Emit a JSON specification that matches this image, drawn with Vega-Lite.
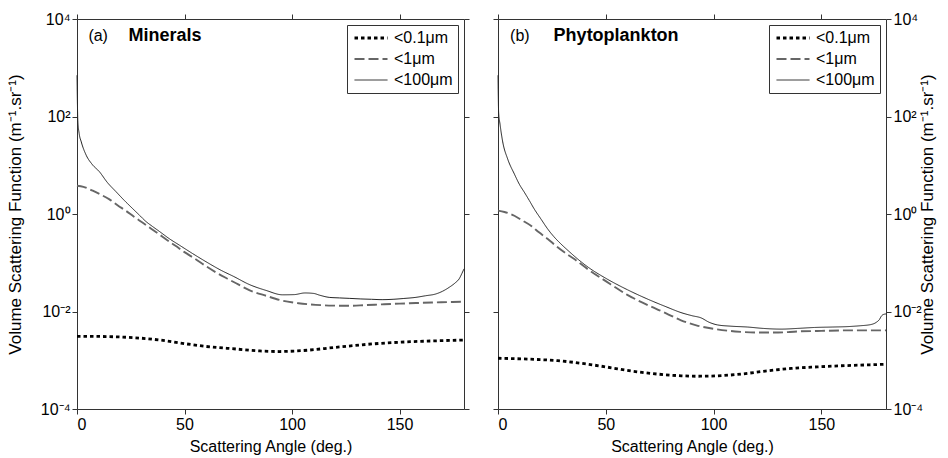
{
  "$schema": "https://vega.github.io/schema/vega-lite/v6.json",
  "padding": {"left": 6, "top": 11, "right": 2, "bottom": 4},
  "config": {
    "font": "Liberation Sans",
    "view": {"stroke": null},
    "axis": {"domainColor": "#333", "tickColor": "#333", "labelColor": "#000", "titleColor": "#000", "labelFontSize": 16, "titleFontSize": 16, "titleFontWeight": "normal", "grid": false, "tickSize": 5, "labelPadding": 2},
    "legend": {"orient": "top-right", "offset": 6, "strokeColor": "#333", "fillColor": "#fff", "padding": 5, "labelFontSize": 16, "symbolType": "M-1,0H5", "symbolSize": 121, "labelOffset": 26, "rowPadding": 5}
  },
  "datasets": {
    "vsf": [
      {"panel": "a", "size": "<100μm", "angle": 0, "vsf": 700},
      {"panel": "a", "size": "<100μm", "angle": 0.4, "vsf": 80},
      {"panel": "a", "size": "<100μm", "angle": 1, "vsf": 45},
      {"panel": "a", "size": "<100μm", "angle": 2, "vsf": 30},
      {"panel": "a", "size": "<100μm", "angle": 4.3, "vsf": 16},
      {"panel": "a", "size": "<100μm", "angle": 7, "vsf": 10.5},
      {"panel": "a", "size": "<100μm", "angle": 10.5, "vsf": 7.3},
      {"panel": "a", "size": "<100μm", "angle": 14, "vsf": 4.5},
      {"panel": "a", "size": "<100μm", "angle": 18.2, "vsf": 2.85},
      {"panel": "a", "size": "<100μm", "angle": 22, "vsf": 1.9},
      {"panel": "a", "size": "<100μm", "angle": 25.8, "vsf": 1.3},
      {"panel": "a", "size": "<100μm", "angle": 29, "vsf": 0.95},
      {"panel": "a", "size": "<100μm", "angle": 32.1, "vsf": 0.7},
      {"panel": "a", "size": "<100μm", "angle": 35, "vsf": 0.56},
      {"panel": "a", "size": "<100μm", "angle": 38.3, "vsf": 0.44},
      {"panel": "a", "size": "<100μm", "angle": 43, "vsf": 0.31},
      {"panel": "a", "size": "<100μm", "angle": 47.6, "vsf": 0.23},
      {"panel": "a", "size": "<100μm", "angle": 53.7, "vsf": 0.155},
      {"panel": "a", "size": "<100μm", "angle": 60, "vsf": 0.105},
      {"panel": "a", "size": "<100μm", "angle": 67, "vsf": 0.07},
      {"panel": "a", "size": "<100μm", "angle": 73, "vsf": 0.052},
      {"panel": "a", "size": "<100μm", "angle": 80, "vsf": 0.036},
      {"panel": "a", "size": "<100μm", "angle": 88, "vsf": 0.027},
      {"panel": "a", "size": "<100μm", "angle": 95.6, "vsf": 0.022},
      {"panel": "a", "size": "<100μm", "angle": 101, "vsf": 0.0222},
      {"panel": "a", "size": "<100μm", "angle": 106, "vsf": 0.024},
      {"panel": "a", "size": "<100μm", "angle": 110, "vsf": 0.0235},
      {"panel": "a", "size": "<100μm", "angle": 113, "vsf": 0.0215},
      {"panel": "a", "size": "<100μm", "angle": 117.3, "vsf": 0.0195},
      {"panel": "a", "size": "<100μm", "angle": 122, "vsf": 0.019},
      {"panel": "a", "size": "<100μm", "angle": 126.6, "vsf": 0.0186},
      {"panel": "a", "size": "<100μm", "angle": 132, "vsf": 0.0181},
      {"panel": "a", "size": "<100μm", "angle": 137, "vsf": 0.0178},
      {"panel": "a", "size": "<100μm", "angle": 141.9, "vsf": 0.0175},
      {"panel": "a", "size": "<100μm", "angle": 147, "vsf": 0.0178},
      {"panel": "a", "size": "<100μm", "angle": 152, "vsf": 0.0185},
      {"panel": "a", "size": "<100μm", "angle": 157.6, "vsf": 0.0195},
      {"panel": "a", "size": "<100μm", "angle": 162, "vsf": 0.021},
      {"panel": "a", "size": "<100μm", "angle": 166.9, "vsf": 0.0229},
      {"panel": "a", "size": "<100μm", "angle": 170, "vsf": 0.026},
      {"panel": "a", "size": "<100μm", "angle": 173.1, "vsf": 0.0313},
      {"panel": "a", "size": "<100μm", "angle": 176, "vsf": 0.039},
      {"panel": "a", "size": "<100μm", "angle": 177.7, "vsf": 0.0464},
      {"panel": "a", "size": "<100μm", "angle": 179, "vsf": 0.06},
      {"panel": "a", "size": "<100μm", "angle": 180, "vsf": 0.075},

      {"panel": "a", "size": "<1μm", "angle": 0, "vsf": 3.8},
      {"panel": "a", "size": "<1μm", "angle": 3, "vsf": 3.6},
      {"panel": "a", "size": "<1μm", "angle": 7.3, "vsf": 3.0},
      {"panel": "a", "size": "<1μm", "angle": 11, "vsf": 2.5},
      {"panel": "a", "size": "<1μm", "angle": 15.1, "vsf": 2.0},
      {"panel": "a", "size": "<1μm", "angle": 19, "vsf": 1.5},
      {"panel": "a", "size": "<1μm", "angle": 22.9, "vsf": 1.15},
      {"panel": "a", "size": "<1μm", "angle": 26.5, "vsf": 0.88},
      {"panel": "a", "size": "<1μm", "angle": 30.6, "vsf": 0.66},
      {"panel": "a", "size": "<1μm", "angle": 34.5, "vsf": 0.5},
      {"panel": "a", "size": "<1μm", "angle": 38.3, "vsf": 0.38},
      {"panel": "a", "size": "<1μm", "angle": 42, "vsf": 0.29},
      {"panel": "a", "size": "<1μm", "angle": 46, "vsf": 0.22},
      {"panel": "a", "size": "<1μm", "angle": 50, "vsf": 0.165},
      {"panel": "a", "size": "<1μm", "angle": 55, "vsf": 0.12},
      {"panel": "a", "size": "<1μm", "angle": 60, "vsf": 0.085},
      {"panel": "a", "size": "<1μm", "angle": 65, "vsf": 0.062},
      {"panel": "a", "size": "<1μm", "angle": 70, "vsf": 0.047},
      {"panel": "a", "size": "<1μm", "angle": 75, "vsf": 0.036},
      {"panel": "a", "size": "<1μm", "angle": 80.1, "vsf": 0.0275},
      {"panel": "a", "size": "<1μm", "angle": 88, "vsf": 0.021},
      {"panel": "a", "size": "<1μm", "angle": 95.5, "vsf": 0.0167},
      {"panel": "a", "size": "<1μm", "angle": 103, "vsf": 0.0148},
      {"panel": "a", "size": "<1μm", "angle": 111, "vsf": 0.0137},
      {"panel": "a", "size": "<1μm", "angle": 119, "vsf": 0.0132},
      {"panel": "a", "size": "<1μm", "angle": 126.6, "vsf": 0.0131},
      {"panel": "a", "size": "<1μm", "angle": 134, "vsf": 0.0135},
      {"panel": "a", "size": "<1μm", "angle": 141.9, "vsf": 0.014},
      {"panel": "a", "size": "<1μm", "angle": 150, "vsf": 0.0145},
      {"panel": "a", "size": "<1μm", "angle": 157.6, "vsf": 0.0149},
      {"panel": "a", "size": "<1μm", "angle": 165, "vsf": 0.0153},
      {"panel": "a", "size": "<1μm", "angle": 172, "vsf": 0.0156},
      {"panel": "a", "size": "<1μm", "angle": 180, "vsf": 0.0159},

      {"panel": "a", "size": "<0.1μm", "angle": 0, "vsf": 0.0031},
      {"panel": "a", "size": "<0.1μm", "angle": 10, "vsf": 0.00308},
      {"panel": "a", "size": "<0.1μm", "angle": 20, "vsf": 0.003},
      {"panel": "a", "size": "<0.1μm", "angle": 30, "vsf": 0.00283},
      {"panel": "a", "size": "<0.1μm", "angle": 40, "vsf": 0.00255},
      {"panel": "a", "size": "<0.1μm", "angle": 50.7, "vsf": 0.00217},
      {"panel": "a", "size": "<0.1μm", "angle": 60, "vsf": 0.00192},
      {"panel": "a", "size": "<0.1μm", "angle": 74, "vsf": 0.0017},
      {"panel": "a", "size": "<0.1μm", "angle": 85, "vsf": 0.00155},
      {"panel": "a", "size": "<0.1μm", "angle": 94, "vsf": 0.00151},
      {"panel": "a", "size": "<0.1μm", "angle": 105, "vsf": 0.00158},
      {"panel": "a", "size": "<0.1μm", "angle": 120.4, "vsf": 0.00184},
      {"panel": "a", "size": "<0.1μm", "angle": 135, "vsf": 0.00212},
      {"panel": "a", "size": "<0.1μm", "angle": 143.6, "vsf": 0.00226},
      {"panel": "a", "size": "<0.1μm", "angle": 155, "vsf": 0.0024},
      {"panel": "a", "size": "<0.1μm", "angle": 166.8, "vsf": 0.0025},
      {"panel": "a", "size": "<0.1μm", "angle": 180, "vsf": 0.0026},

      {"panel": "b", "size": "<100μm", "angle": 0, "vsf": 700},
      {"panel": "b", "size": "<100μm", "angle": 0.3, "vsf": 120},
      {"panel": "b", "size": "<100μm", "angle": 0.93, "vsf": 70},
      {"panel": "b", "size": "<100μm", "angle": 2.2, "vsf": 30},
      {"panel": "b", "size": "<100μm", "angle": 4.5, "vsf": 13.4},
      {"panel": "b", "size": "<100μm", "angle": 7.6, "vsf": 6.6},
      {"panel": "b", "size": "<100μm", "angle": 10, "vsf": 4.0},
      {"panel": "b", "size": "<100μm", "angle": 12.2, "vsf": 2.8},
      {"panel": "b", "size": "<100μm", "angle": 14.5, "vsf": 1.9},
      {"panel": "b", "size": "<100μm", "angle": 16.8, "vsf": 1.27},
      {"panel": "b", "size": "<100μm", "angle": 20, "vsf": 0.78},
      {"panel": "b", "size": "<100μm", "angle": 23.1, "vsf": 0.49},
      {"panel": "b", "size": "<100μm", "angle": 26, "vsf": 0.34},
      {"panel": "b", "size": "<100μm", "angle": 29.2, "vsf": 0.243},
      {"panel": "b", "size": "<100μm", "angle": 33, "vsf": 0.17},
      {"panel": "b", "size": "<100μm", "angle": 37, "vsf": 0.119},
      {"panel": "b", "size": "<100μm", "angle": 42, "vsf": 0.08},
      {"panel": "b", "size": "<100μm", "angle": 50, "vsf": 0.048},
      {"panel": "b", "size": "<100μm", "angle": 60, "vsf": 0.028},
      {"panel": "b", "size": "<100μm", "angle": 70, "vsf": 0.0175},
      {"panel": "b", "size": "<100μm", "angle": 78, "vsf": 0.0125},
      {"panel": "b", "size": "<100μm", "angle": 84.9, "vsf": 0.0095},
      {"panel": "b", "size": "<100μm", "angle": 90, "vsf": 0.0082},
      {"panel": "b", "size": "<100μm", "angle": 94.2, "vsf": 0.0074},
      {"panel": "b", "size": "<100μm", "angle": 98, "vsf": 0.006},
      {"panel": "b", "size": "<100μm", "angle": 101.9, "vsf": 0.0053},
      {"panel": "b", "size": "<100μm", "angle": 108, "vsf": 0.005},
      {"panel": "b", "size": "<100μm", "angle": 115.8, "vsf": 0.0048},
      {"panel": "b", "size": "<100μm", "angle": 123, "vsf": 0.0045},
      {"panel": "b", "size": "<100μm", "angle": 131.3, "vsf": 0.00435},
      {"panel": "b", "size": "<100μm", "angle": 139, "vsf": 0.0045},
      {"panel": "b", "size": "<100μm", "angle": 146.7, "vsf": 0.0047},
      {"panel": "b", "size": "<100μm", "angle": 155, "vsf": 0.0048},
      {"panel": "b", "size": "<100μm", "angle": 162.2, "vsf": 0.0049},
      {"panel": "b", "size": "<100μm", "angle": 168, "vsf": 0.0051},
      {"panel": "b", "size": "<100μm", "angle": 173, "vsf": 0.0054},
      {"panel": "b", "size": "<100μm", "angle": 175.5, "vsf": 0.006},
      {"panel": "b", "size": "<100μm", "angle": 176.9, "vsf": 0.0068},
      {"panel": "b", "size": "<100μm", "angle": 178, "vsf": 0.0082},
      {"panel": "b", "size": "<100μm", "angle": 179.2, "vsf": 0.0088},
      {"panel": "b", "size": "<100μm", "angle": 180, "vsf": 0.0089},

      {"panel": "b", "size": "<1μm", "angle": 0, "vsf": 1.17},
      {"panel": "b", "size": "<1μm", "angle": 3, "vsf": 1.1},
      {"panel": "b", "size": "<1μm", "angle": 7.6, "vsf": 0.92},
      {"panel": "b", "size": "<1μm", "angle": 11, "vsf": 0.75},
      {"panel": "b", "size": "<1μm", "angle": 15.3, "vsf": 0.575},
      {"panel": "b", "size": "<1μm", "angle": 19, "vsf": 0.42},
      {"panel": "b", "size": "<1μm", "angle": 23.1, "vsf": 0.307},
      {"panel": "b", "size": "<1μm", "angle": 27, "vsf": 0.22},
      {"panel": "b", "size": "<1μm", "angle": 30.8, "vsf": 0.164},
      {"panel": "b", "size": "<1μm", "angle": 35.4, "vsf": 0.119},
      {"panel": "b", "size": "<1μm", "angle": 42, "vsf": 0.072},
      {"panel": "b", "size": "<1μm", "angle": 50, "vsf": 0.042},
      {"panel": "b", "size": "<1μm", "angle": 60, "vsf": 0.022},
      {"panel": "b", "size": "<1μm", "angle": 70, "vsf": 0.0132},
      {"panel": "b", "size": "<1μm", "angle": 78, "vsf": 0.0092},
      {"panel": "b", "size": "<1μm", "angle": 84.9, "vsf": 0.0066},
      {"panel": "b", "size": "<1μm", "angle": 92, "vsf": 0.0052},
      {"panel": "b", "size": "<1μm", "angle": 100.3, "vsf": 0.0044},
      {"panel": "b", "size": "<1μm", "angle": 110, "vsf": 0.0039},
      {"panel": "b", "size": "<1μm", "angle": 120.5, "vsf": 0.0037},
      {"panel": "b", "size": "<1μm", "angle": 130, "vsf": 0.0037},
      {"panel": "b", "size": "<1μm", "angle": 139, "vsf": 0.0039},
      {"panel": "b", "size": "<1μm", "angle": 150, "vsf": 0.004},
      {"panel": "b", "size": "<1μm", "angle": 162.2, "vsf": 0.0041},
      {"panel": "b", "size": "<1μm", "angle": 180, "vsf": 0.0041},

      {"panel": "b", "size": "<0.1μm", "angle": 0, "vsf": 0.0011},
      {"panel": "b", "size": "<0.1μm", "angle": 15, "vsf": 0.00105},
      {"panel": "b", "size": "<0.1μm", "angle": 27.7, "vsf": 0.00098},
      {"panel": "b", "size": "<0.1μm", "angle": 40, "vsf": 0.00085},
      {"panel": "b", "size": "<0.1μm", "angle": 50.9, "vsf": 0.00072},
      {"panel": "b", "size": "<0.1μm", "angle": 62, "vsf": 0.0006},
      {"panel": "b", "size": "<0.1μm", "angle": 74.1, "vsf": 0.00052},
      {"panel": "b", "size": "<0.1μm", "angle": 85, "vsf": 0.00048},
      {"panel": "b", "size": "<0.1μm", "angle": 92.6, "vsf": 0.00047},
      {"panel": "b", "size": "<0.1μm", "angle": 102, "vsf": 0.00048},
      {"panel": "b", "size": "<0.1μm", "angle": 112.7, "vsf": 0.00052},
      {"panel": "b", "size": "<0.1μm", "angle": 124, "vsf": 0.0006},
      {"panel": "b", "size": "<0.1μm", "angle": 136, "vsf": 0.00068},
      {"panel": "b", "size": "<0.1μm", "angle": 148, "vsf": 0.00073},
      {"panel": "b", "size": "<0.1μm", "angle": 159, "vsf": 0.00077},
      {"panel": "b", "size": "<0.1μm", "angle": 170, "vsf": 0.0008},
      {"panel": "b", "size": "<0.1μm", "angle": 180, "vsf": 0.00083}
    ]
  },
  "data": {"name": "vsf"},
  "spacing": 22,
  "resolve": {"scale": {"color": "independent", "strokeDash": "independent", "strokeWidth": "independent"}, "legend": {"color": "independent", "strokeDash": "independent", "strokeWidth": "independent"}},
  "hconcat": [
    {
      "width": 387,
      "height": 390,
      "transform": [{"filter": "datum.panel == 'a'"}],
      "layer": [
        {
          "mark": {"type": "line", "interpolate": "monotone"},
          "encoding": {
            "x": {"field": "angle", "type": "quantitative", "scale": {"domain": [0, 180], "nice": false, "zero": false}, "axis": {"orient": "bottom", "values": [0, 50, 100, 150], "title": "Scattering Angle (deg.)", "titlePadding": 6}},
            "y": {"field": "vsf", "type": "quantitative", "scale": {"type": "log", "domain": [0.0001, 10000], "nice": false}, "axis": {"orient": "left", "values": [0.0001, 0.01, 1, 100, 10000], "labelExpr": "datum.value >= 10000 ? '10⁴' : datum.value >= 100 ? '10²' : datum.value >= 1 ? '10⁰' : datum.value >= 0.01 ? '10⁻²' : '10⁻⁴'", "title": "Volume Scattering Function (m⁻¹.sr⁻¹)", "titleFontSize": 17, "titlePadding": 16}},
            "color": {"field": "size", "type": "nominal", "scale": {"domain": ["<0.1μm", "<1μm", "<100μm"], "range": ["#000000", "#666666", "#222222"]}, "legend": {"title": null}},
            "strokeDash": {"field": "size", "type": "nominal", "scale": {"domain": ["<0.1μm", "<1μm", "<100μm"], "range": [[3.5, 3], [10, 4], [1, 0]]}, "legend": {"title": null}},
            "strokeWidth": {"field": "size", "type": "nominal", "scale": {"domain": ["<0.1μm", "<1μm", "<100μm"], "range": [2.8, 1, 1]}, "legend": {"title": null}}
          }
        },
        {
          "mark": {"type": "point", "opacity": 0},
          "encoding": {
            "x": {"field": "angle", "type": "quantitative", "scale": {"domain": [0, 180], "nice": false, "zero": false}, "axis": {"orient": "top", "values": [0, 50, 100, 150], "labels": false, "title": null}},
            "y": {"field": "vsf", "type": "quantitative", "scale": {"type": "log", "domain": [0.0001, 10000], "nice": false}, "axis": {"orient": "right", "values": [0.0001, 0.01, 1, 100, 10000], "labels": false, "title": null}}
          }
        },
        {
          "data": {"values": [{}]},
          "mark": {"type": "text", "align": "left", "baseline": "middle", "fontSize": 16},
          "encoding": {"x": {"datum": 5.3, "type": "quantitative", "axis": null}, "y": {"datum": 4540, "type": "quantitative", "axis": null}, "text": {"value": "(a)"}}
        },
        {
          "data": {"values": [{}]},
          "mark": {"type": "text", "align": "left", "baseline": "middle", "fontSize": 18, "fontWeight": "bold"},
          "encoding": {"x": {"datum": 24, "type": "quantitative", "axis": null}, "y": {"datum": 4540, "type": "quantitative", "axis": null}, "text": {"value": "Minerals"}}
        }
      ],
      "resolve": {"axis": {"x": "independent", "y": "independent"}}
    },
    {
      "width": 388,
      "height": 390,
      "transform": [{"filter": "datum.panel == 'b'"}],
      "layer": [
        {
          "mark": {"type": "line", "interpolate": "monotone"},
          "encoding": {
            "x": {"field": "angle", "type": "quantitative", "scale": {"domain": [0, 180], "nice": false, "zero": false}, "axis": {"orient": "bottom", "values": [0, 50, 100, 150], "title": "Scattering Angle (deg.)", "titlePadding": 6}},
            "y": {"field": "vsf", "type": "quantitative", "scale": {"type": "log", "domain": [0.0001, 10000], "nice": false}, "axis": {"orient": "right", "values": [0.0001, 0.01, 1, 100, 10000], "labelExpr": "datum.value >= 10000 ? '10⁴' : datum.value >= 100 ? '10²' : datum.value >= 1 ? '10⁰' : datum.value >= 0.01 ? '10⁻²' : '10⁻⁴'", "title": "Volume Scattering Function (m⁻¹.sr⁻¹)", "titleFontSize": 17, "titleAngle": 270, "titleBaseline": "bottom", "titlePadding": 14}},
            "color": {"field": "size", "type": "nominal", "scale": {"domain": ["<0.1μm", "<1μm", "<100μm"], "range": ["#000000", "#666666", "#222222"]}, "legend": {"title": null}},
            "strokeDash": {"field": "size", "type": "nominal", "scale": {"domain": ["<0.1μm", "<1μm", "<100μm"], "range": [[3.5, 3], [10, 4], [1, 0]]}, "legend": {"title": null}},
            "strokeWidth": {"field": "size", "type": "nominal", "scale": {"domain": ["<0.1μm", "<1μm", "<100μm"], "range": [2.8, 1, 1]}, "legend": {"title": null}}
          }
        },
        {
          "mark": {"type": "point", "opacity": 0},
          "encoding": {
            "x": {"field": "angle", "type": "quantitative", "scale": {"domain": [0, 180], "nice": false, "zero": false}, "axis": {"orient": "top", "values": [0, 50, 100, 150], "labels": false, "title": null}},
            "y": {"field": "vsf", "type": "quantitative", "scale": {"type": "log", "domain": [0.0001, 10000], "nice": false}, "axis": {"orient": "left", "values": [0.0001, 0.01, 1, 100, 10000], "labels": false, "title": null}}
          }
        },
        {
          "data": {"values": [{}]},
          "mark": {"type": "text", "align": "left", "baseline": "middle", "fontSize": 16},
          "encoding": {"x": {"datum": 5.6, "type": "quantitative", "axis": null}, "y": {"datum": 4540, "type": "quantitative", "axis": null}, "text": {"value": "(b)"}}
        },
        {
          "data": {"values": [{}]},
          "mark": {"type": "text", "align": "left", "baseline": "middle", "fontSize": 18, "fontWeight": "bold"},
          "encoding": {"x": {"datum": 25.8, "type": "quantitative", "axis": null}, "y": {"datum": 4540, "type": "quantitative", "axis": null}, "text": {"value": "Phytoplankton"}}
        }
      ],
      "resolve": {"axis": {"x": "independent", "y": "independent"}}
    }
  ]
}
